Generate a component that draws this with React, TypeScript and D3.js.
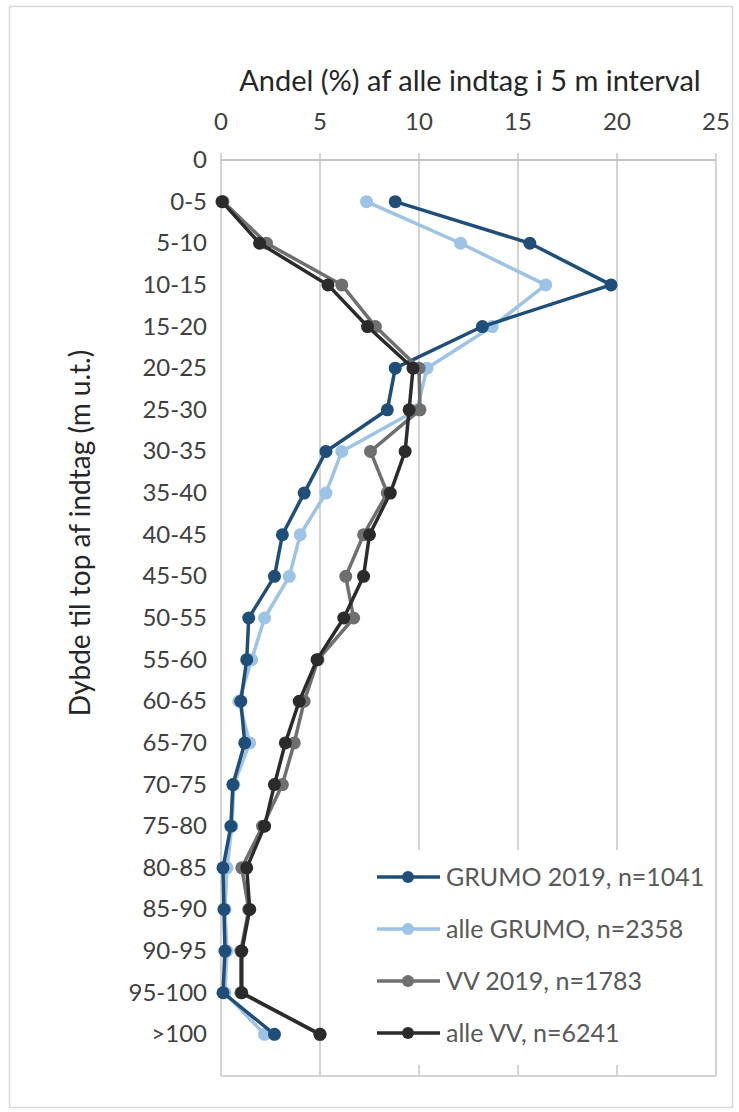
import React from "react";
import * as d3 from "d3";

const CATEGORIES = [
  "0", "0-5", "5-10", "10-15", "15-20", "20-25", "25-30", "30-35", "35-40", "40-45", "45-50",
  "50-55", "55-60", "60-65", "65-70", "70-75", "75-80", "80-85", "85-90", "90-95", "95-100", ">100",
];

// værdier i % pr. dybdeinterval (første kategori "0" har ingen data)
const GRUMO_2019 = [null, 8.8, 15.6, 19.7, 13.2, 8.8, 8.4, 5.3, 4.2, 3.1, 2.7, 1.4, 1.3, 1.0, 1.2, 0.6, 0.5, 0.1, 0.15, 0.2, 0.1, 2.7];
const ALLE_GRUMO = [null, 7.35, 12.1, 16.4, 13.7, 10.4, 9.9, 6.1, 5.3, 4.0, 3.45, 2.2, 1.55, 0.9, 1.45, 0.65, 0.55, 0.3, 0.2, 0.3, 0.2, 2.2];
const VV_2019 = [null, 0.1, 2.3, 6.1, 7.8, 10.0, 10.05, 7.55, 8.4, 7.2, 6.3, 6.7, 4.9, 4.2, 3.7, 3.1, 2.1, 1.05, 1.4, 1.0, 1.0, 5.0];
const ALLE_VV = [null, 0.05, 1.95, 5.4, 7.4, 9.7, 9.5, 9.3, 8.55, 7.5, 7.2, 6.2, 4.85, 3.95, 3.25, 2.7, 2.2, 1.3, 1.45, 1.05, 1.05, 5.0];

const X_TICKS = [0, 5, 10, 15, 20, 25];

const SERIES = [
  { name: "alle GRUMO, n=2358", values: ALLE_GRUMO, color: "#9dc3e6" },
  { name: "GRUMO 2019, n=1041", values: GRUMO_2019, color: "#1f4e79" },
  { name: "VV 2019, n=1783", values: VV_2019, color: "#6f6f6f" },
  { name: "alle VV, n=6241", values: ALLE_VV, color: "#2b2b2b" },
];
const LEGEND_ORDER = [1, 0, 2, 3];

const W = 739, H = 1112;
const left = 221, right = 716, top = 160, bottom = 1076;
const FONT = "Lato, 'Open Sans', sans-serif";

export default function App() {
  const x = d3.scaleLinear().domain([0, 25]).range([left, right]);
  const step = (bottom - top) / CATEGORIES.length;
  const y = d3.scalePoint<string>().domain(CATEGORIES).range([top, bottom - step]);

  const line = d3.line<{ c: string; v: number | null }>()
    .defined(d => d.v != null)
    .x(d => x(d.v as number))
    .y(d => y(d.c) as number);

  return (
    <svg width={W} height={H} style={{ position: "absolute", left: 0, top: 0, background: "#fff" }}
      fontFamily={FONT}>
      <rect x={9.5} y={6.5} width={723} height={1101} fill="#fff" stroke="#d9d9d9" strokeWidth={1.5} />

      {/* gitterlinjer */}
      {X_TICKS.map(t => (
        <line key={"g" + t} x1={x(t)} x2={x(t)} y1={top - 7} y2={bottom} stroke="#d4d4d4" strokeWidth={2} />
      ))}
      <line x1={left} x2={right} y1={top} y2={top} stroke="#c4c4c4" strokeWidth={2} />
      <line x1={left} x2={right} y1={bottom} y2={bottom} stroke="#d4d4d4" strokeWidth={2} />

      {/* x-akse */}
      {X_TICKS.map(t => (
        <text key={"xt" + t} x={x(t)} y={130} textAnchor="middle" fontSize={24} fill="#404040">{t}</text>
      ))}
      <text x={470} y={91} textAnchor="middle" fontSize={29} fill="#262626">
        Andel (%) af alle indtag i 5 m interval
      </text>

      {/* y-akse */}
      {CATEGORIES.map(c => (
        <text key={"yt" + c} x={207} y={(y(c) as number) + 8} textAnchor="end" fontSize={24} fill="#404040">{c}</text>
      ))}
      <text transform={`translate(90,${533}) rotate(-90)`} textAnchor="middle" fontSize={28} fill="#262626">
        Dybde til top af indtag (m u.t.)
      </text>

      {/* legendebaggrund */}
      <rect x={370} y={850} width={342} height={215} fill="#fff" />

      {/* serier */}
      {SERIES.map(s => {
        const pts = CATEGORIES.map((c, i) => ({ c, v: s.values[i] }));
        return (
          <g key={s.name}>
            <path d={line(pts) || ""} fill="none" stroke={s.color} strokeWidth={3.5} strokeLinejoin="round" />
            {pts.filter(p => p.v != null).map(p => (
              <circle key={p.c} cx={x(p.v as number)} cy={y(p.c) as number} r={6.5} fill={s.color} />
            ))}
          </g>
        );
      })}

      {/* legende */}
      {LEGEND_ORDER.map((si, i) => {
        const s = SERIES[si];
        const ly = 877 + i * 52;
        return (
          <g key={"lg" + s.name}>
            <line x1={377} x2={440} y1={ly} y2={ly} stroke={s.color} strokeWidth={3.5} />
            <circle cx={408} cy={ly} r={6} fill={s.color} />
            <text x={446} y={ly + 9} fontSize={25} fill="#595959">{s.name}</text>
          </g>
        );
      })}
    </svg>
  );
}
